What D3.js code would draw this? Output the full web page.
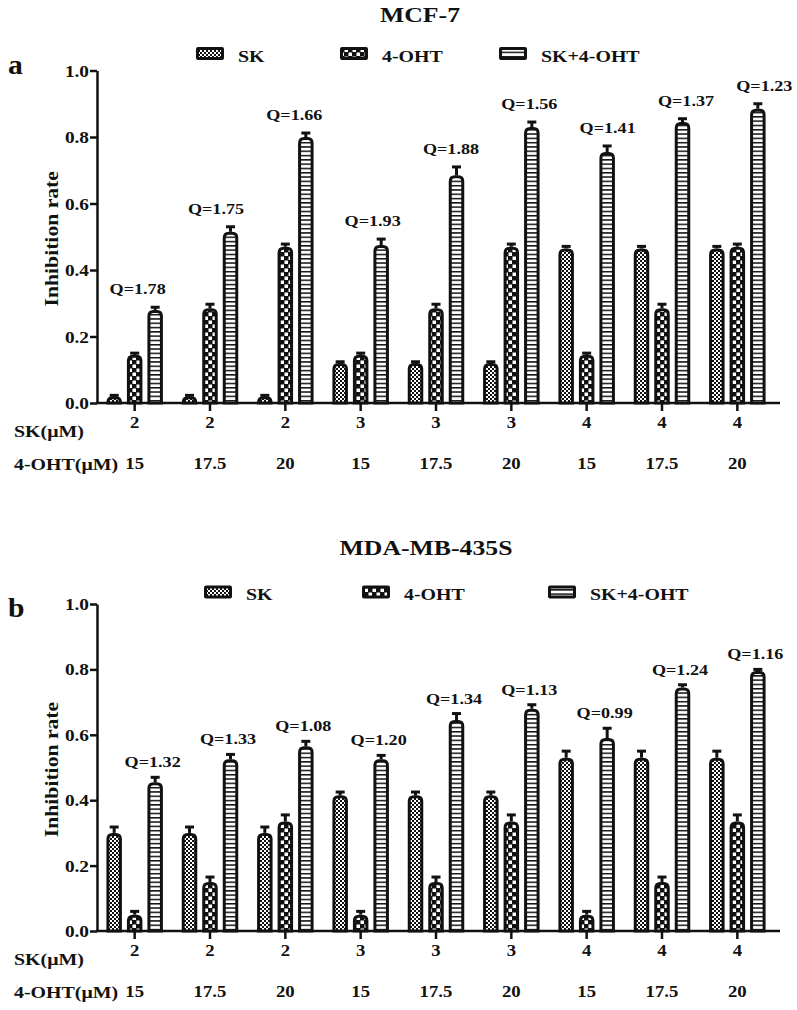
<!DOCTYPE html>
<html><head><meta charset="utf-8">
<script src="https://cdn.jsdelivr.net/npm/d3@7"></script>
<style>body{margin:0;background:#fff}</style>
</head><body>
<script>
// ---------------- data ----------------
const groupIds = ["G1","G2","G3","G4","G5","G6","G7","G8","G9"];
const skDose  = ["2","2","2","3","3","3","4","4","4"];
const ohtDose = ["15","17.5","20","15","17.5","20","15","17.5","20"];
const seriesNames = ["SK","4-OHT","SK+4-OHT"];
const yTicks = [0,0.2,0.4,0.6,0.8,1.0];

const mcfSK       = [0.02,0.02,0.02,0.12,0.12,0.12,0.465,0.465,0.465];
const mcfSKErr    = [0.003,0.003,0.003,0.004,0.004,0.004,0.006,0.006,0.006];
const mcfOHT      = [0.145,0.285,0.47,0.145,0.285,0.47,0.145,0.285,0.47];
const mcfOHTErr   = [0.005,0.012,0.008,0.005,0.012,0.008,0.005,0.012,0.008];
const mcfCombo    = [0.28,0.515,0.80,0.475,0.685,0.83,0.755,0.845,0.885];
const mcfComboErr = [0.008,0.015,0.012,0.018,0.025,0.015,0.018,0.01,0.015];
const mcfQ        = ["1.78","1.75","1.66","1.93","1.88","1.56","1.41","1.37","1.23"];

const mdaSK       = [0.30,0.30,0.30,0.415,0.415,0.415,0.53,0.53,0.53];
const mdaSKErr    = [0.018,0.018,0.018,0.01,0.01,0.01,0.02,0.02,0.02];
const mdaOHT      = [0.05,0.15,0.335,0.05,0.15,0.335,0.05,0.15,0.335];
const mdaOHTErr   = [0.01,0.015,0.02,0.01,0.015,0.02,0.01,0.015,0.02];
const mdaCombo    = [0.455,0.525,0.565,0.525,0.645,0.68,0.59,0.745,0.795];
const mdaComboErr = [0.015,0.015,0.015,0.012,0.02,0.012,0.03,0.008,0.005];
const mdaQ        = ["1.32","1.33","1.08","1.20","1.34","1.13","0.99","1.24","1.16"];

// ---------------- drawing ----------------
const W = 797, H = 1010;
const FONT = '"Liberation Serif","Times New Roman",serif';
const SX = 1.17;
const svg = d3.select("body").append("svg").attr("width", W).attr("height", H);

const defs = svg.append("defs");
const p1 = defs.append("pattern").attr("id","pSK").attr("patternUnits","userSpaceOnUse").attr("width",4).attr("height",4);
p1.append("rect").attr("width",4).attr("height",4).attr("fill","#fff");
p1.append("rect").attr("width",2).attr("height",2).attr("fill","#111");
p1.append("rect").attr("x",2).attr("y",2).attr("width",2).attr("height",2).attr("fill","#111");
const p2 = defs.append("pattern").attr("id","pOHT").attr("patternUnits","userSpaceOnUse").attr("width",8).attr("height",8);
p2.append("rect").attr("width",8).attr("height",8).attr("fill","#111");
p2.append("rect").attr("x",0.5).attr("y",0.5).attr("width",3.5).attr("height",3.5).attr("fill","#fff");
p2.append("rect").attr("x",4.5).attr("y",4.5).attr("width",3.5).attr("height",3.5).attr("fill","#fff");
const p3 = defs.append("pattern").attr("id","pCombo").attr("patternUnits","userSpaceOnUse").attr("width",4).attr("height",4.3);
p3.append("rect").attr("width",4).attr("height",4.3).attr("fill","#fff");
p3.append("rect").attr("y",0).attr("width",4).attr("height",1.5).attr("fill","#111");
const fills = ["url(#pSK)","url(#pOHT)","url(#pCombo)"];

function txt(g, x, y, s, size, anchor="middle", sx=SX, rot=0) {
  return g.append("text")
    .attr("transform", `translate(${x},${y}) rotate(${rot}) scale(${sx},1)`)
    .attr("text-anchor", anchor)
    .style("font-family", FONT).style("font-weight", "bold")
    .style("font-size", size + "px").attr("fill", "#111")
    .text(s);
}

const x = d3.scaleBand().domain(groupIds).range([97, 775]).padding(0);
const xs = d3.scaleBand().domain(seriesNames).range([-28.25, 28.25]).paddingInner(0.244);

function barPath(x0, w, yTop, yBot, r) {
  r = Math.min(r, w/2, (yBot - yTop));
  return `M${x0},${yBot}V${yTop + r}Q${x0},${yTop} ${x0 + r},${yTop}H${x0 + w - r}Q${x0 + w},${yTop} ${x0 + w},${yTop + r}V${yBot}Z`;
}

const panels = [
  { title:"MCF-7", letter:"a", titleX:420, titleY:22, letterY:74, legendY:53.5,
    legendX:[196,340,499], y0:403, y1:70.5,
    vals:[mcfSK, mcfOHT, mcfCombo], errs:[mcfSKErr, mcfOHTErr, mcfComboErr], q:mcfQ,
    qdx:(i)=>3 + 3*i, qgap:13 },
  { title:"MDA-MB-435S", letter:"b", titleX:426, titleY:555, letterY:617, legendY:592,
    legendX:[204,362,548], y0:931, y1:604,
    vals:[mdaSK, mdaOHT, mdaCombo], errs:[mdaSKErr, mdaOHTErr, mdaComboErr], q:mdaQ,
    qdx:(i)=>18, qgap:10 }
];

panels.forEach(P => {
  const g = svg.append("g");
  const y = d3.scaleLinear().domain([0, 1]).range([P.y0, P.y1]);

  txt(g, P.titleX, P.titleY, P.title, 22);
  txt(g, 8, P.letterY, P.letter, 27, "start", 1.1);

  seriesNames.forEach((s, k) => {
    const lx = P.legendX[k];
    g.append("rect").attr("x", lx).attr("y", P.legendY - 6.5).attr("width", 28).attr("height", 13)
      .attr("rx", 2).attr("fill", "#111");
    g.append("rect").attr("x", lx + 3).attr("y", P.legendY - 3.5).attr("width", 22).attr("height", 7)
      .attr("fill", fills[k]);
    txt(g, lx + 42, P.legendY + 8, s, 17, "start");
  });

  const ya = g.append("g").attr("transform", "translate(97,0)")
    .call(d3.axisLeft(y).tickValues(yTicks).tickFormat(d3.format(".1f")).tickSize(7).tickSizeOuter(0).tickPadding(0));
  ya.select(".domain").attr("stroke", "#111").attr("stroke-width", 2.5);
  ya.selectAll(".tick line").attr("stroke", "#111").attr("stroke-width", 2.5);
  ya.selectAll(".tick text").remove();
  yTicks.forEach(v => txt(g, 89, y(v) + 6, d3.format(".1f")(v), 16.5, "end"));
  txt(g, 58, (P.y0 + P.y1) / 2 + 2, "Inhibition rate", 18.5, "middle", SX, -90);

  g.append("line").attr("x1", 96).attr("x2", 780).attr("y1", P.y0).attr("y2", P.y0)
    .attr("stroke", "#111").attr("stroke-width", 2.5);
  const xa = g.append("g").attr("transform", `translate(0,${P.y0})`)
    .call(d3.axisBottom(x).tickSize(8).tickSizeOuter(0).tickFormat(""));
  xa.select(".domain").remove();
  xa.selectAll(".tick line").attr("stroke", "#111").attr("stroke-width", 2.5);

  txt(g, 14, P.y0 + 34, "SK(μM)", 17, "start");
  txt(g, 14, P.y0 + 67, "4-OHT(μM)", 17, "start");
  groupIds.forEach((gid, i) => {
    const cx = x(gid) + x.bandwidth() / 2;
    txt(g, cx, P.y0 + 25, skDose[i], 16);
    txt(g, cx, P.y0 + 66, ohtDose[i], 16);
  });

  seriesNames.forEach((s, k) => {
    const vals = P.vals[k], errs = P.errs[k];
    const sw = 3;
    groupIds.forEach((gid, i) => {
      const cx = x(gid) + x.bandwidth() / 2;
      const bx = cx + xs(s);
      const bw = xs.bandwidth();
      const v = vals[i], e = errs[i];
      const mid = bx + bw / 2;
      g.append("line").attr("x1", mid).attr("x2", mid).attr("y1", y(v)).attr("y2", y(v + e))
        .attr("stroke", "#111").attr("stroke-width", 3);
      g.append("line").attr("x1", mid - 4.5).attr("x2", mid + 4.5).attr("y1", y(v + e)).attr("y2", y(v + e))
        .attr("stroke", "#111").attr("stroke-width", 3);
      g.append("path")
        .attr("d", barPath(bx + sw/2, bw - sw, y(v) + sw/2, P.y0, 4.5))
        .attr("fill", fills[k]).attr("stroke", "#111").attr("stroke-width", sw);
    });
  });

  groupIds.forEach((gid, i) => {
    const cx = x(gid) + x.bandwidth() / 2;
    const top = y(P.vals[2][i] + P.errs[2][i]);
    txt(g, cx + P.qdx(i), top - P.qgap, "Q=" + P.q[i], 15.5);
  });
});
</script>
</body></html>
